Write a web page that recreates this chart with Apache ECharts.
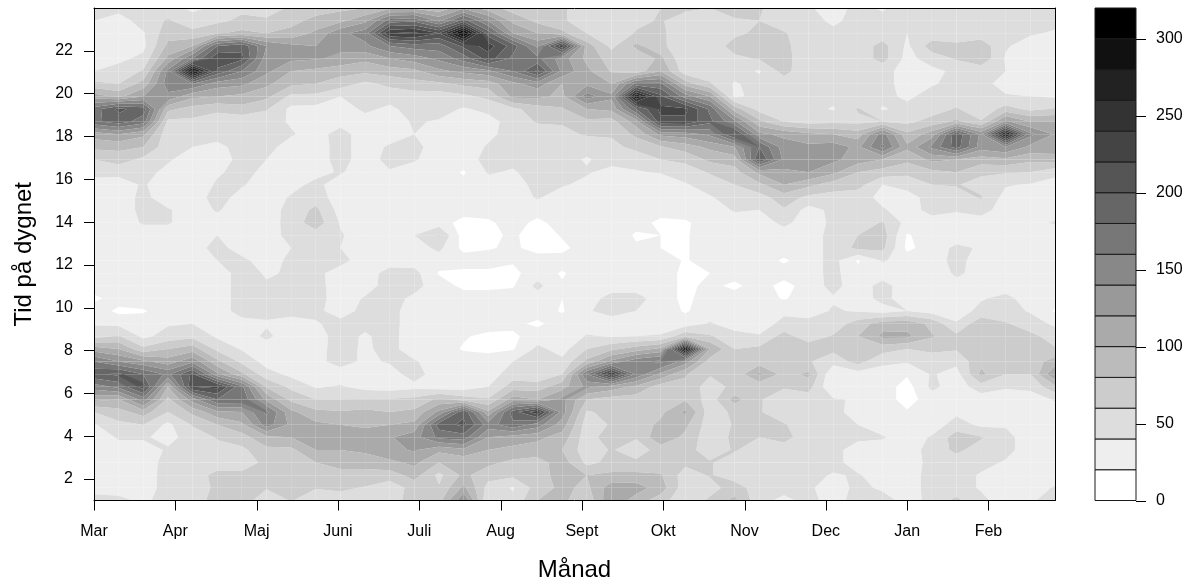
<!DOCTYPE html>
<html><head><meta charset="utf-8">
<style>html,body{margin:0;padding:0;background:#fff}#c{width:1192px;height:588px}</style>
<script src="https://cdn.jsdelivr.net/npm/echarts@6/dist/echarts.min.js"></script>
</head><body><div id="c"></div>
<script>
const months=['Mar','Apr','Maj','Juni','Juli','Aug','Sept','Okt','Nov','Dec','Jan','Feb'];
const colsPerMonth=3.30;
const hourTicks=[2,4,6,8,10,12,14,16,18,20,22];
const legendTicks=[0,50,100,150,200,250,300];
const levels=[0,20,40,60,80,100,120,140,160,180,200,220,240,260,280,300,320];
const greys=['#ffffff','#eeeeee','#dddddd','#cccccc','#bbbbbb','#aaaaaa','#999999','#888888','#777777','#666666','#555555','#444444','#333333','#222222','#111111','#000000'];
// each column: values from top (24 h) to bottom (1 h), 40 samples
const col00=[45,40,35,32,35,40,65,110,170,175,110,85,60,45,33,30,30,30,30,30,30,30,30,15,32,38,52,110,160,195,150,105,60,38,30,30,30,30,38,42];
const col01=[48,30,30,30,35,48,60,95,205,190,120,85,70,45,32,30,30,30,30,30,30,30,30,30,15,35,62,100,140,205,165,100,72,55,42,32,30,30,32,45];
const col02=[50,50,38,35,45,62,88,120,190,170,105,80,55,45,42,45,45,42,30,30,30,30,30,30,18,30,35,65,125,180,210,150,90,60,42,32,30,30,30,36];
const col03=[50,62,72,85,105,145,150,135,85,55,45,47,42,36,30,30,42,42,30,30,30,30,30,30,30,38,48,80,110,155,100,75,60,35,35,42,47,48,48,48];
const col04=[35,50,65,100,160,295,160,105,72,55,48,40,32,30,30,30,30,30,30,30,30,30,30,30,30,40,55,90,135,205,220,130,85,62,47,47,47,47,47,48];
const col05=[45,55,78,180,215,195,130,100,65,48,47,35,32,38,42,48,42,33,40,48,40,30,30,30,30,30,37,55,85,125,225,180,115,80,62,52,47,68,65,70];
const col06=[55,65,85,195,205,160,125,95,72,47,47,47,45,45,42,33,30,30,30,30,45,48,48,48,48,32,30,38,55,85,165,175,120,95,72,55,50,65,68,75];
const col07=[45,65,80,140,130,125,105,85,62,47,47,46,40,36,30,30,30,30,30,30,30,38,42,42,45,38,44,30,32,48,78,115,165,150,95,75,65,62,62,42];
const col08=[65,75,85,125,125,100,85,55,35,38,42,32,30,30,34,42,47,48,47,40,45,42,48,48,48,30,30,30,30,35,55,75,105,115,100,75,68,65,62,62];
const col09=[72,85,105,120,122,95,80,55,33,30,32,30,30,34,45,50,65,72,50,47,47,46,47,48,45,38,34,34,34,30,38,60,85,105,110,100,80,65,62,40];
const col10=[75,95,135,125,115,88,70,40,30,33,48,48,48,42,30,30,32,38,42,40,47,30,30,30,30,47,46,47,48,30,42,60,82,100,115,100,88,72,65,48];
const col11=[80,115,150,135,105,85,55,47,44,32,30,30,30,30,30,30,30,30,30,30,30,30,32,42,47,44,38,37,36,30,33,62,85,95,115,105,85,75,58,48];
const col12=[95,170,240,160,120,90,65,48,36,32,30,43,47,38,30,30,30,30,30,30,30,48,48,47,47,47,46,46,42,32,30,62,80,100,118,115,95,70,48,45];
const col13=[95,175,245,170,130,95,72,50,48,42,40,46,42,30,30,30,30,30,40,30,30,47,46,36,30,30,30,30,42,48,35,65,85,105,132,122,105,88,68,75];
const col14=[85,135,220,170,145,115,75,50,48,38,30,30,30,30,30,30,30,30,62,45,30,18,30,30,30,30,30,30,30,30,30,85,125,190,165,105,80,55,62,72];
const col15=[115,190,310,205,170,125,85,55,38,30,30,30,30,18,25,30,30,12,10,14,30,15,15,30,30,30,22,18,30,30,30,70,195,205,170,115,85,85,105,140];
const col16=[90,140,190,230,210,135,90,65,45,33,36,42,47,42,32,30,30,16,14,18,30,15,15,30,30,30,15,15,30,30,40,62,105,150,120,100,85,68,52,40];
const col17=[70,95,120,190,175,160,115,105,55,48,47,47,45,38,30,30,30,30,24,24,22,15,18,30,30,25,16,18,40,50,70,110,190,175,110,95,75,65,38,45];
const col18=[70,75,100,135,165,205,130,105,70,62,50,48,48,48,47,42,30,14,8,12,30,30,46,30,30,16,30,45,47,45,70,100,235,150,105,90,72,68,70,80];
const col19=[65,65,85,235,130,135,100,95,78,62,55,50,47,46,42,30,30,30,22,15,28,18,22,20,18,30,22,32,45,60,92,125,130,110,92,80,90,92,85,85];
const col20=[40,42,60,90,95,105,115,150,100,75,62,48,38,42,35,30,30,30,30,30,30,30,30,30,38,30,42,60,85,160,125,80,58,50,48,48,55,80,75,65];
const col21=[40,42,42,55,70,78,100,125,105,72,62,55,48,33,30,30,30,30,30,30,30,30,30,48,47,30,38,75,125,240,110,72,65,62,75,62,65,85,112,118];
const col22=[55,55,62,85,62,68,165,280,180,110,85,65,50,38,30,30,30,25,18,22,22,30,30,48,40,30,40,90,155,155,95,70,65,68,62,48,65,85,110,90];
const col23=[60,62,65,65,85,100,165,205,225,215,125,78,60,42,22,30,25,17,20,20,30,30,30,30,30,30,42,105,165,115,70,68,75,85,95,70,68,82,90,70];
const col24=[65,48,44,45,42,48,90,150,225,215,130,90,65,50,38,30,30,17,18,18,18,15,15,15,18,30,75,285,130,82,75,78,105,85,75,68,65,50,48,42];
const col25=[60,48,46,45,46,50,62,120,175,185,145,105,85,62,50,38,30,30,30,30,30,20,25,30,30,42,62,100,70,62,50,50,48,48,47,50,62,62,50,65];
const col26=[68,58,55,70,55,48,38,36,90,145,205,120,90,72,60,50,42,30,30,30,30,30,15,30,30,30,48,60,65,65,66,88,65,62,65,62,48,47,72,85];
const col27=[62,60,65,68,62,38,47,46,52,85,125,180,200,105,75,52,40,30,30,30,30,30,30,30,30,30,42,65,70,105,65,62,62,65,60,48,47,47,47,46];
const col28=[50,50,62,65,68,68,48,46,47,60,115,130,135,115,100,70,58,45,30,30,17,30,12,18,36,46,68,72,65,72,62,48,47,62,68,48,47,47,47,35];
const col29=[42,48,48,48,45,42,44,46,47,52,105,125,130,120,85,55,32,30,30,30,30,30,30,30,32,46,48,75,62,85,68,50,47,47,47,48,47,47,45,46];
const col30=[33,36,45,48,47,47,47,46,38,55,100,130,125,105,70,52,45,44,47,47,47,47,46,38,42,48,62,65,48,20,20,42,46,47,47,47,47,38,25,32];
const col31=[45,47,47,47,47,47,47,48,62,55,90,115,110,80,68,48,47,48,60,65,18,24,30,30,38,70,80,65,68,30,22,38,32,40,45,30,30,42,48,48];
const col32=[38,45,47,68,68,47,47,46,38,60,150,165,100,72,40,35,42,62,70,65,42,30,47,46,32,90,105,68,45,30,30,30,30,30,42,30,30,30,35,52];
const col33=[48,48,40,36,33,32,32,36,46,55,85,105,85,65,47,32,32,33,18,15,32,30,30,30,40,92,105,60,42,22,12,12,22,30,30,30,30,30,30,30];
const col34=[60,48,47,70,50,34,38,48,50,68,110,145,105,75,60,48,46,32,30,30,30,22,30,30,32,75,82,65,48,42,45,30,30,30,42,48,46,48,48,47];
const col35=[58,47,47,65,62,45,46,47,62,85,195,190,100,80,62,48,42,30,30,44,47,45,30,30,30,42,65,62,45,32,30,30,36,48,70,65,48,48,48,65];
const col36=[48,47,48,72,75,47,47,46,46,62,135,130,90,65,50,62,48,30,30,38,30,30,30,38,46,75,80,65,75,85,50,30,30,36,62,50,46,38,38,45];
const col37=[48,47,46,42,38,40,32,42,68,125,270,140,95,62,42,32,30,30,30,30,30,30,30,46,48,62,65,65,65,60,42,30,30,38,46,46,38,30,30,30];
const col38=[45,45,42,32,30,30,30,40,55,100,145,115,85,60,38,30,30,35,30,30,30,30,30,30,38,50,65,64,68,60,45,30,30,30,30,30,30,30,30,38];
const col39=[42,45,38,30,30,30,30,38,62,100,118,110,92,45,33,30,30,42,30,30,30,30,30,30,18,36,52,62,90,120,75,42,30,30,30,30,30,30,42,46];
const columns=[col00,col01,col02,col03,col04,col05,col06,col07,col08,col09,col10,col11,col12,col13,col14,col15,col16,col17,col18,col19,col20,col21,col22,col23,col24,col25,col26,col27,col28,col29,col30,col31,col32,col33,col34,col35,col36,col37,col38,col39];
const nX=columns.length, nY=col00.length;
const hourAt=k=>24-23*k/(nY-1);

function clip(poly,lev,keepAbove){
  const out=[];
  for(let i=0;i<poly.length;i++){
    const a=poly[i],b=poly[(i+1)%poly.length];
    const ain=keepAbove?a[2]>=lev:a[2]<=lev, bin=keepAbove?b[2]>=lev:b[2]<=lev;
    if(ain)out.push(a);
    if(ain!==bin){const t=(lev-a[2])/(b[2]-a[2]);out.push([a[0]+t*(b[0]-a[0]),a[1]+t*(b[1]-a[1]),lev]);}
  }
  return out;
}
const cells=[];
for(let i=0;i<nX-1;i++)for(let k=0;k<nY-1;k++)cells.push([i,k]);

function renderCell(params,api){
  const i=api.value(0),k=api.value(1);
  const quad=[[i,hourAt(k),columns[i][k]],[i+1,hourAt(k),columns[i+1][k]],[i+1,hourAt(k+1),columns[i+1][k+1]],[i,hourAt(k+1),columns[i][k+1]]];
  const children=[];
  for(let b=0;b<greys.length;b++){
    let p=clip(quad,levels[b],true);
    if(p.length>2)p=clip(p,levels[b+1],false);
    if(p.length>2){
      children.push({type:'polygon',shape:{points:p.map(q=>api.coord([q[0],q[1]]))},style:{fill:greys[b]},silent:true});
    }
  }
  return {type:'group',children};
}
function renderKey(params,api){
  const b=api.value(0);
  const p0=api.coord([0,levels[b]]),p1=api.coord([1,levels[b+1]]);
  return {type:'rect',shape:{x:p0[0],y:p1[1],width:p1[0]-p0[0],height:p0[1]-p1[1]},style:{fill:greys[b],stroke:'#1a1a1a',lineWidth:1}};
}
function renderMonthTick(params,api){
  const p=api.coord([api.value(0),1]);
  const x=Math.round(p[0])+0.5;
  return {type:'line',shape:{x1:x,y1:p[1],x2:x,y2:p[1]+10},style:{stroke:'#000',lineWidth:1}};
}
function renderKeyTick(params,api){
  const p=api.coord([1,api.value(0)]);
  const y=Math.round(p[1])+0.5;
  return {type:'line',shape:{x1:p[0],y1:y,x2:p[0]+10,y2:y},style:{stroke:'#000',lineWidth:1}};
}
const font={fontFamily:'"Liberation Sans",Arial,sans-serif',color:'#000'};
const line={lineStyle:{color:'#000',width:1}};
const chart=echarts.init(document.getElementById('c'),null,{renderer:'canvas'});
const monthPos=months.map((m,n)=>n*colsPerMonth);
chart.setOption({
  animation:false,backgroundColor:'#fff',
  grid:[{left:94,top:8,width:961,height:492.5},{left:1095,top:8,width:41,height:492.5}],
  xAxis:[
    {gridIndex:0,type:'value',min:0,max:nX-1,position:'bottom',z:10,
     name:'Månad',nameLocation:'middle',nameGap:58,nameTextStyle:{...font,fontSize:24},
     axisLine:{onZero:false,...line},splitLine:{show:false},
     axisTick:{show:false},
     axisLabel:{...font,fontSize:16,margin:23,customValues:monthPos,formatter:v=>months[Math.round(v/colsPerMonth)]}},
    {gridIndex:0,type:'value',min:0,max:nX-1,position:'top',z:10,axisLine:{onZero:false,...line},axisTick:{show:false},axisLabel:{show:false},splitLine:{show:false}},
    {gridIndex:1,type:'value',min:0,max:1,show:false}
  ],
  yAxis:[
    {gridIndex:0,type:'value',min:1,max:24,position:'left',z:10,
     name:'Tid på dygnet',nameLocation:'middle',nameGap:58,nameRotate:90,nameTextStyle:{...font,fontSize:24},
     axisLine:{onZero:false,...line},splitLine:{show:false},
     axisTick:{length:10,customValues:hourTicks,...line},
     axisLabel:{...font,fontSize:16,margin:21,customValues:hourTicks,formatter:v=>String(v)}},
    {gridIndex:0,type:'value',min:1,max:24,position:'right',z:10,axisLine:{onZero:false,...line},axisTick:{show:false},axisLabel:{show:false},splitLine:{show:false}},
    {gridIndex:1,type:'value',min:0,max:320,position:'right',z:10,
     axisLine:{show:false},splitLine:{show:false},
     axisTick:{show:false},
     axisLabel:{...font,fontSize:16,margin:20,customValues:legendTicks,formatter:v=>String(v)}}
  ],
  series:[
    {type:'custom',xAxisIndex:0,yAxisIndex:0,coordinateSystem:'cartesian2d',data:cells,renderItem:renderCell,clip:true,silent:true,encode:{x:0,y:1},progressive:0},
    {type:'custom',xAxisIndex:2,yAxisIndex:2,coordinateSystem:'cartesian2d',data:greys.map((g,b)=>[b]),renderItem:renderKey,silent:true,encode:{y:0},progressive:0},
    {type:'custom',xAxisIndex:0,yAxisIndex:0,coordinateSystem:'cartesian2d',data:monthPos.map(v=>[v]),renderItem:renderMonthTick,silent:true,encode:{x:0},z:11},
    {type:'custom',xAxisIndex:2,yAxisIndex:2,coordinateSystem:'cartesian2d',data:legendTicks.map(v=>[v]),renderItem:renderKeyTick,silent:true,encode:{y:0},z:11}
  ]
});
</script></body></html>
